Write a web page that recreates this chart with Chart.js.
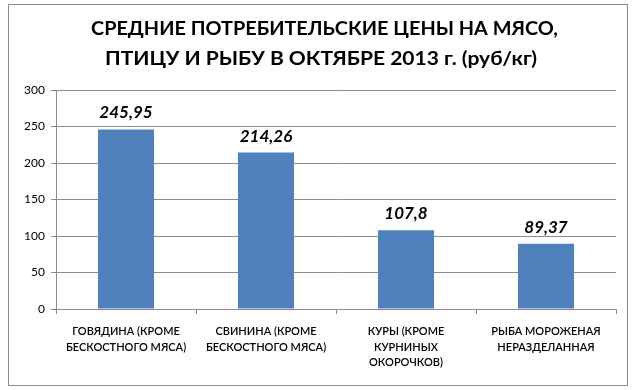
<!DOCTYPE html>
<html><head><meta charset="utf-8">
<script src="https://cdn.jsdelivr.net/npm/chart.js@4"></script>
<style>html,body{margin:0;padding:0;background:#fff}#w{width:636px;height:390px;position:relative}</style>
</head><body><div id="w"><canvas id="c" width="636" height="390"></canvas></div>
<script>
const titleLines = ["СРЕДНИЕ ПОТРЕБИТЕЛЬСКИЕ ЦЕНЫ НА МЯСО,", "ПТИЦУ И РЫБУ В ОКТЯБРЕ 2013 г. (руб/кг)"];
const categories = [
  ["ГОВЯДИНА (КРОМЕ", "БЕСКОСТНОГО МЯСА)"],
  ["СВИНИНА (КРОМЕ", "БЕСКОСТНОГО МЯСА)"],
  ["КУРЫ (КРОМЕ", "КУРНИНЫХ", "ОКОРОЧКОВ)"],
  ["РЫБА МОРОЖЕНАЯ", "НЕРАЗДЕЛАННАЯ"]
];
const prices = [245.95, 214.26, 107.8, 89.37];
const priceLabels = ["245,95", "214,26", "107,8", "89,37"];
const yTicks = [0, 50, 100, 150, 200, 250, 300];

const FONT = "Lato, 'Open Sans', sans-serif";

function fitText(ctx, text, left, right, baseline) {
  const w = ctx.measureText(text).width;
  const target = right - left;
  ctx.save();
  ctx.translate(left, baseline);
  ctx.scale(target / w, 1);
  ctx.textAlign = 'left';
  ctx.textBaseline = 'alphabetic';
  ctx.fillText(text, 0, 0);
  ctx.restore();
}

const decor = {
  id: 'decor',
  beforeDraw(chart) {
    const ctx = chart.ctx;
    ctx.save();
    ctx.fillStyle = '#fff';
    ctx.fillRect(0, 0, chart.width, chart.height);
    ctx.strokeStyle = '#8c8c8c';
    ctx.lineWidth = 1;
    ctx.strokeRect(8.5, 4.5, 619, 381);
    ctx.restore();
  },
  afterDraw(chart) {
    const ctx = chart.ctx;
    ctx.save();
    ctx.fillStyle = '#000';
    ctx.font = "bold 19px " + FONT;
    fitText(ctx, titleLines[0], 91, 558, 34.5);
    fitText(ctx, titleLines[1], 105, 537, 64.5);
    const meta = chart.getDatasetMeta(0);
    ctx.font = "italic bold 17px " + FONT;
    ctx.textAlign = 'center';
    ctx.textBaseline = 'alphabetic';
    meta.data.forEach((bar, i) => {
      ctx.fillText(priceLabels[i], bar.x, bar.y - 11);
    });
    ctx.restore();
  }
};

new Chart(document.getElementById('c'), {
  type: 'bar',
  data: {
    labels: categories,
    datasets: [{
      data: prices,
      backgroundColor: '#4F81BD',
      borderWidth: 0,
      categoryPercentage: 1,
      barPercentage: 0.4
    }]
  },
  options: {
    responsive: false,
    animation: false,
    layout: { padding: { left: 0, right: 20, top: 90, bottom: 0 } },
    plugins: { legend: { display: false }, tooltip: { enabled: false }, title: { display: false } },
    scales: {
      x: {
        grid: { offset: true, drawOnChartArea: false, color: '#8c8c8c', tickLength: 5 },
        border: { color: '#8c8c8c' },
        ticks: { color: '#000', font: { family: FONT, size: 11, weight: '600', lineHeight: 1.4 }, maxRotation: 0, autoSkip: false, padding: 10 },
        afterFit(s) { s.height = 81; }
      },
      y: {
        min: 0, max: 300,
        afterBuildTicks(s) { s.ticks = yTicks.map(v => ({ value: v })); },
        grid: { color: '#8c8c8c', tickLength: 5 },
        border: { color: '#8c8c8c' },
        ticks: { color: '#000', font: { family: FONT, size: 12 }, padding: 6 },
        afterFit(s) { s.width = 56; }
      }
    }
  },
  plugins: [decor]
});
</script></body></html>
